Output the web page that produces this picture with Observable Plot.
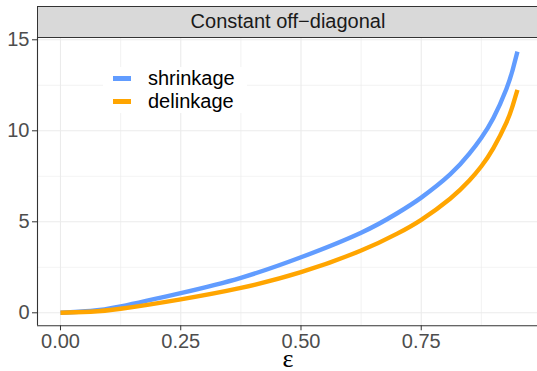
<!DOCTYPE html>
<html><head><meta charset="utf-8">
<script src="https://cdn.jsdelivr.net/npm/d3@7"></script>
<script src="https://cdn.jsdelivr.net/npm/@observablehq/plot@0.6"></script>
<style>
body{margin:0;background:#fff;}
#wrap{position:relative;width:537px;height:371px;overflow:hidden;font-family:"Liberation Sans",Arial,sans-serif;}
#strip{position:absolute;left:37px;top:6px;width:520px;height:31.5px;background:#d9d9d9;border:1.1px solid #333;box-sizing:border-box;}
#strip span{position:absolute;left:0;width:500px;top:0;line-height:29px;text-align:center;font-size:20px;color:#1a1a1a;}
#legend{position:absolute;left:103px;top:67px;width:144px;height:46px;background:#fff;}
.item{position:absolute;left:0;height:23px;width:144px;}
.key{position:absolute;left:10px;width:18px;height:4.5px;top:9px;}
.lab{position:absolute;left:45px;top:0;line-height:23px;font-size:20px;color:#000;}
#xlab{position:absolute;left:273px;width:30px;text-align:center;top:350px;font-family:"Liberation Serif","DejaVu Serif",serif;font-size:26px;color:#000;line-height:18px;}
</style>
</head><body>
<div id="wrap"></div>
<script>
const stripLabel = "Constant off\u2212diagonal";
const xTitle = "\u03b5";
const seriesNames = ["shrinkage", "delinkage"];
const seriesColors = ["#619CFF", "#FFA500"];
const eps    = [0, 0.0625, 0.125, 0.25, 0.375, 0.5, 0.625, 0.7,  0.75, 0.81, 0.85, 0.875, 0.9,  0.927, 0.94,  0.95];
const shrink = [0, 0.10,   0.35,  1.08, 1.92,  3.05, 4.40,  5.47, 6.33, 7.60, 8.74, 9.62,  10.7, 12.3,  13.34, 14.35];
const delink = [0, 0.06,   0.22,  0.74, 1.37,  2.23, 3.42,  4.35, 5.11, 6.27, 7.27, 8.05,  9.05, 10.45, 11.37, 12.25];
const xTicks = [0, 0.25, 0.5, 0.75];
const xMinor = [0.125, 0.375, 0.625, 0.875];
const yTicks = [0, 5, 10, 15];
const yMinor = [2.5, 7.5, 12.5];
const xDomain = [-0.0478, 0.9917];
const yDomain = [-0.714, 15.126];

const data = [];
eps.forEach((e, i) => {
  data.push({eps: e, value: shrink[i], series: seriesNames[0]});
});
eps.forEach((e, i) => {
  data.push({eps: e, value: delink[i], series: seriesNames[1]});
});

const grid = "#ebebeb";
const plot = Plot.plot({
  width: 537, height: 371,
  marginLeft: 37, marginRight: 0, marginTop: 37, marginBottom: 45.7,
  style: {fontFamily: "Liberation Sans, Arial, sans-serif", fontSize: "20px", background: "transparent", overflow: "visible"},
  x: {domain: xDomain, label: null, axis: null},
  y: {domain: yDomain, label: null, axis: null},
  color: {domain: seriesNames, range: seriesColors},
  marks: [
    Plot.ruleX(xMinor, {stroke: grid, strokeWidth: 0.6}),
    Plot.ruleY(yMinor, {stroke: grid, strokeWidth: 0.6}),
    Plot.ruleX(xTicks, {stroke: grid, strokeWidth: 1.1}),
    Plot.ruleY(yTicks, {stroke: grid, strokeWidth: 1.1}),
    Plot.line(data, {x: "eps", y: "value", z: "series", stroke: "series", strokeWidth: 4.4, curve: "natural", strokeLinecap: "butt"}),
    Plot.ruleX([xDomain[0]], {stroke: "#333", strokeWidth: 1.1}),
    Plot.ruleY([yDomain[0]], {stroke: "#333", strokeWidth: 1.1}),
    Plot.axisX(xTicks, {tickFormat: d3.format(".2f"), tickSize: 5, tickPadding: 3, stroke: "#333", fill: "#4d4d4d", fontSize: 20, label: null}),
    Plot.axisY(yTicks, {tickSize: 5, tickPadding: 3, stroke: "#333", fill: "#4d4d4d", fontSize: 20, label: null})
  ]
});

const wrap = document.getElementById("wrap");
wrap.appendChild(plot);

const strip = document.createElement("div");
strip.id = "strip";
const sp = document.createElement("span");
sp.textContent = stripLabel;
strip.appendChild(sp);
wrap.appendChild(strip);

const legend = document.createElement("div");
legend.id = "legend";
seriesNames.forEach((name, i) => {
  const item = document.createElement("div");
  item.className = "item";
  item.style.top = (i * 23) + "px";
  const key = document.createElement("div");
  key.className = "key";
  key.style.background = seriesColors[i];
  const lab = document.createElement("div");
  lab.className = "lab";
  lab.textContent = name;
  item.appendChild(key);
  item.appendChild(lab);
  legend.appendChild(item);
});
wrap.appendChild(legend);

const xl = document.createElement("div");
xl.id = "xlab";
xl.textContent = xTitle;
wrap.appendChild(xl);
</script>
</body></html>
